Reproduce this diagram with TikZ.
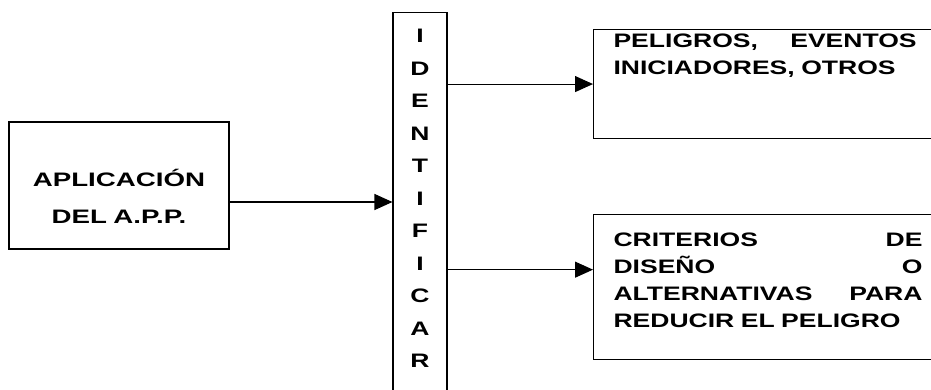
\documentclass[tikz,border=0pt]{standalone}
\usepackage{fontspec}
\newfontfamily\diagfont{Liberation Sans}[FakeStretch=1.36]
\newfontfamily\appfont{Liberation Sans}[FakeStretch=1.42]
\usepackage{tikz}
\usetikzlibrary{positioning,arrows.meta}
\tikzset{
  blk/.style   ={rectangle, draw=black, line width=1.1pt, inner sep=0pt},
  appbox/.style={blk, text width=220pt, align=center, text height=64.5pt, text depth=62.5pt,
                 font=\appfont\bfseries\fontsize{19.5}{36.5}\selectfont},
  idbox/.style ={blk, text width=54pt, align=center, text height=30pt, text depth=358pt,
                 font=\diagfont\bfseries\fontsize{19.5}{32.5}\selectfont},
  outbox/.style={blk, align=left, inner xsep=20pt,
                 font=\diagfont\bfseries\fontsize{19.5}{26.8}\selectfont},
  flow/.style  ={-{Triangle[length=18pt,width=16pt]}, line width=1.1pt},
}

\begin{document}
\begin{tikzpicture}[x=1pt,y=-1pt]
\clip (0,0) rectangle (931,389);
\node[appbox] (app) at (119,185.5) {APLICACIÓN\\DEL A.P.P.};
\node[idbox, anchor=north] (idf) at (420,12) {I\\D\\E\\N\\T\\I\\F\\I\\C\\A\\R};
\node[outbox, text width=303pt, text height=18pt, text depth=91pt, anchor=north west] (haz) at (593,29)
  {PELIGROS,\hfill EVENTOS\\INICIADORES, OTROS};
\node[outbox, text width=309pt, text height=32pt, text depth=113pt,
      below=75pt of haz.south west, anchor=north west] (crit)
  {CRITERIOS\hfill DE\\DISEÑO\hfill O\\ALTERNATIVAS\hfill PARA\\REDUCIR EL PELIGRO};
\coordinate (a1) at ([yshift=-16.5pt]app.east);
\coordinate (c1) at ([yshift=17.5pt]crit.west);
\draw[flow] (a1) -- (a1 -| idf.west);
\draw[flow] (haz.west -| idf.east) -- (haz.west);
\draw[flow] (c1 -| idf.east) -- (c1);
\end{tikzpicture}
\end{document}
